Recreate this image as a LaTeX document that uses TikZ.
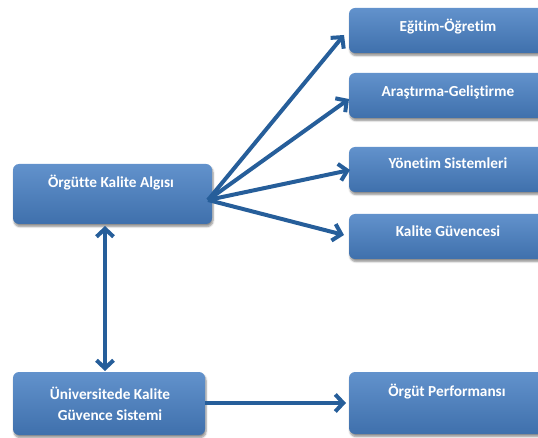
\documentclass[tikz,border=0pt]{standalone}
\usepackage{fontspec}
\setmainfont{Carlito}[BoldFont={Carlito Bold},Ligatures=NoCommon]
\usetikzlibrary{shadows.blur,arrows.meta}

\definecolor{boxtop}{RGB}{98,146,204}
\definecolor{boxbot}{RGB}{63,112,172}
\definecolor{arrowblue}{RGB}{38,94,154}

\tikzset{
  bluebox/.style={rectangle, rounded corners=6pt, draw=none,
    top color=boxtop, bottom color=boxbot,
    blur shadow={shadow xshift=1pt, shadow yshift=-2.5pt, shadow opacity=45, shadow blur steps=6},
    inner sep=0pt},
  boxtext/.style={text=white, font=\fontsize{15.3}{21}\selectfont\bfseries, align=center, inner sep=0pt},
  link/.style={draw=arrowblue, line width=4pt,
    -{Straight Barb[length=8pt,width=17pt,line width=4pt]}},
  twolink/.style={draw=arrowblue, line width=4pt,
    {Straight Barb[length=8pt,width=17pt,line width=4pt]}-{Straight Barb[length=8pt,width=17pt,line width=4pt]}}
}

\begin{document}
\begin{tikzpicture}[x=1pt,y=-1pt]
  \useasboundingbox (0,0) rectangle (538,438);
  \clip (0,0) rectangle (538,438);

  % boxes
  \node[bluebox, minimum width=199pt, minimum height=60pt] (alg) at (112.5,194) {};
  \node[bluebox, minimum width=198pt, minimum height=45pt] (egt) at (448,30.5) {};
  \node[bluebox, minimum width=198pt, minimum height=45pt] (arg) at (448,95.5) {};
  \node[bluebox, minimum width=198pt, minimum height=45pt] (yon) at (448,169.5) {};
  \node[bluebox, minimum width=198pt, minimum height=45pt] (kal) at (448,236.5) {};
  \node[bluebox, minimum width=192pt, minimum height=63pt] (univ) at (109,403.5) {};
  \node[bluebox, minimum width=198pt, minimum height=62pt] (perf) at (448,403) {};

  % labels
  \node[boxtext] (algT) at (111,183) {Örgütte Kalite Algısı};
  \node[boxtext] (egtT) at (448,27) {Eğitim-Öğretim};
  \node[boxtext] (argT) at (448,92) {Araştırma-Geliştirme};
  \node[boxtext] (yonT) at (448,163) {Yönetim Sistemleri};
  \node[boxtext] (kalT) at (448,231) {Kalite Güvencesi};
  \node[boxtext] (univT) at (110,404) {Üniversitede Kalite\\Güvence Sistemi};
  \node[boxtext] (perfT) at (447,392) {Örgüt Performansı};

  % connector ends
  \coordinate (fan) at (208,200);
  \coordinate (tEgt) at (344,35);
  \coordinate (tArg) at (349,99);
  \coordinate (tYon) at (350,170);
  \coordinate (tKal) at (344,235);
  \coordinate (vTop) at (105,226);
  \coordinate (vBot) at (105,371);
  \coordinate (hStart) at (205,403);
  \coordinate (hEnd) at (346,403);

  % connectors
  \draw[link] (fan) -- (tEgt);
  \draw[link] (fan) -- (tArg);
  \draw[link] (fan) -- (tYon);
  \draw[link] (fan) -- (tKal);
  \draw[twolink] (vTop) -- (vBot);
  \draw[link] (hStart) -- (hEnd);
\end{tikzpicture}
\end{document}
